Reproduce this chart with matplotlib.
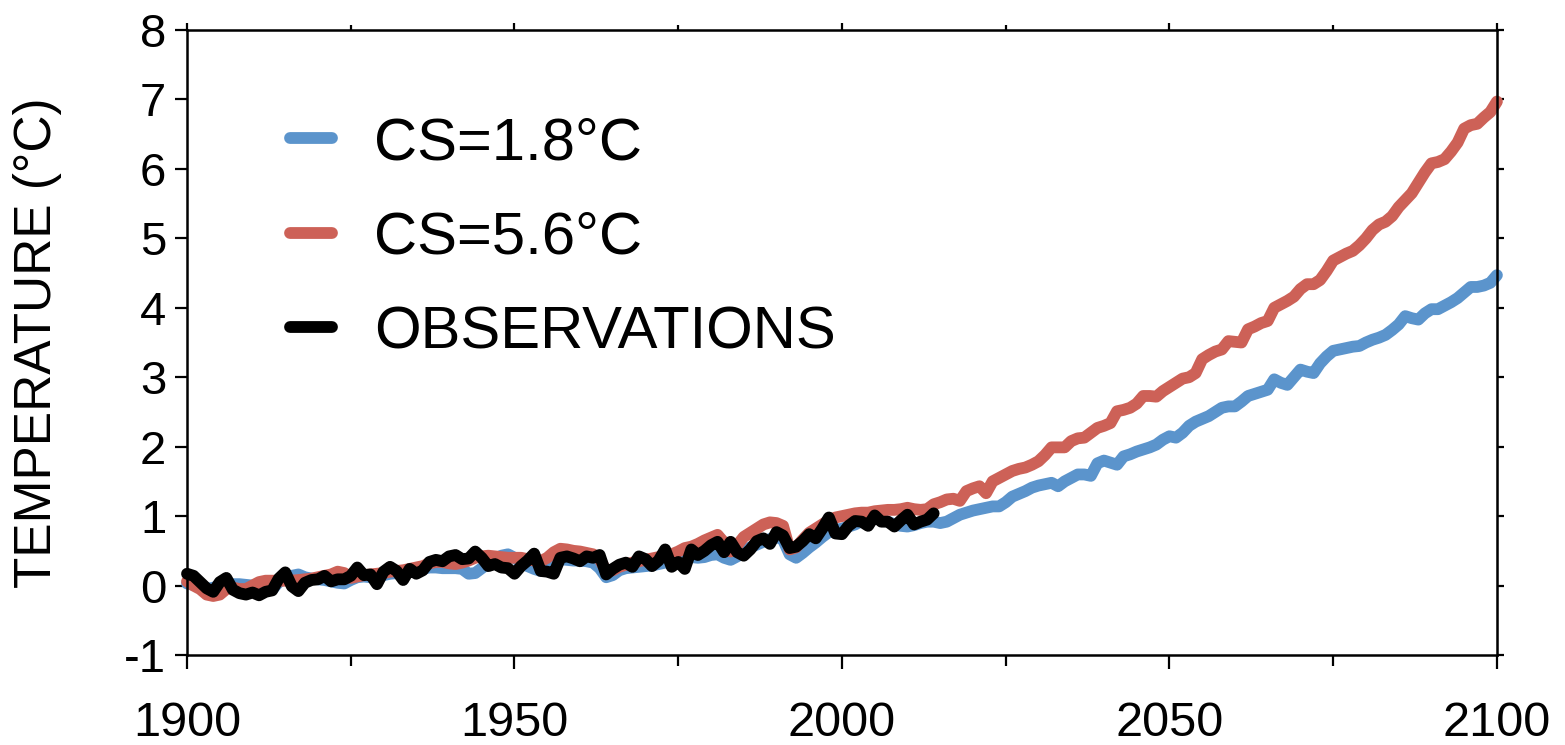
import numpy as np
import matplotlib.pyplot as plt
from matplotlib.ticker import MultipleLocator, FuncFormatter

plt.rcParams['font.family'] = ['Liberation Sans', 'DejaVu Sans']

# annual global temperature, degC
years_model = np.arange(1900, 2101)
years_obs = np.arange(1900, 2015)

cs_low = [
    0.03, 0.01, -0.02, -0.05, -0.03, -0.01, 0.01, 0.02, 0.02, 0.01,
    0.00, -0.02, -0.07, -0.06, 0.05, 0.10, 0.14, 0.16, 0.12, 0.10,
    0.09, 0.08, 0.06, 0.04, 0.03, 0.08, 0.12, 0.13, 0.12, 0.14,
    0.15, 0.17, 0.18, 0.19, 0.21, 0.22, 0.24, 0.26, 0.26, 0.25,
    0.25, 0.25, 0.24, 0.17, 0.18, 0.25, 0.32, 0.38, 0.43, 0.45,
    0.40, 0.33, 0.28, 0.24, 0.21, 0.25, 0.32, 0.38, 0.37, 0.36,
    0.36, 0.35, 0.33, 0.25, 0.12, 0.15, 0.22, 0.25, 0.26, 0.27,
    0.28, 0.29, 0.31, 0.33, 0.35, 0.37, 0.39, 0.41, 0.40, 0.41,
    0.44, 0.45, 0.40, 0.37, 0.42, 0.50, 0.55, 0.59, 0.63, 0.67,
    0.70, 0.66, 0.45, 0.40, 0.47, 0.55, 0.62, 0.70, 0.77, 0.80,
    0.82, 0.85, 0.88, 0.93, 0.98, 1.00, 0.96, 0.92, 0.88, 0.86,
    0.85, 0.87, 0.90, 0.92, 0.92, 0.90, 0.92, 0.97, 1.02, 1.05,
    1.08, 1.10, 1.12, 1.14, 1.14, 1.20, 1.28, 1.32, 1.36, 1.41,
    1.44, 1.46, 1.48, 1.43, 1.50, 1.55, 1.60, 1.60, 1.58, 1.76,
    1.80, 1.77, 1.74, 1.86, 1.89, 1.93, 1.96, 1.99, 2.03, 2.10,
    2.15, 2.13, 2.20, 2.30, 2.36, 2.40, 2.44, 2.50, 2.56, 2.58,
    2.58, 2.65, 2.73, 2.76, 2.79, 2.82, 2.97, 2.92, 2.89, 3.00,
    3.11, 3.08, 3.06, 3.20, 3.30, 3.38, 3.40, 3.42, 3.44, 3.45,
    3.50, 3.54, 3.57, 3.61, 3.68, 3.76, 3.88, 3.85, 3.83, 3.92,
    3.98, 3.98, 4.03, 4.08, 4.14, 4.22, 4.30, 4.30, 4.32, 4.36,
    4.47,
]

cs_high = [
    0.06, 0.00, -0.05, -0.13, -0.15, -0.13, -0.05, -0.03, -0.05, -0.05,
    0.00, 0.05, 0.07, 0.07, 0.07, 0.07, 0.07, 0.08, 0.09, 0.10,
    0.12, 0.14, 0.16, 0.20, 0.18, 0.11, 0.13, 0.15, 0.16, 0.17,
    0.18, 0.20, 0.21, 0.22, 0.24, 0.26, 0.28, 0.32, 0.34, 0.34,
    0.32, 0.31, 0.33, 0.36, 0.40, 0.42, 0.43, 0.42, 0.41, 0.40,
    0.40, 0.40, 0.38, 0.36, 0.35, 0.40, 0.48, 0.53, 0.52, 0.50,
    0.49, 0.47, 0.45, 0.38, 0.21, 0.22, 0.27, 0.30, 0.33, 0.35,
    0.37, 0.39, 0.41, 0.43, 0.45, 0.49, 0.54, 0.56, 0.60, 0.65,
    0.69, 0.73, 0.62, 0.49, 0.58, 0.70, 0.76, 0.82, 0.88, 0.91,
    0.90, 0.86, 0.52, 0.55, 0.66, 0.76, 0.82, 0.88, 0.94, 0.98,
    1.00, 1.02, 1.04, 1.05, 1.05, 1.07, 1.08, 1.09, 1.09, 1.10,
    1.12, 1.10, 1.09, 1.10, 1.17, 1.20, 1.24, 1.25, 1.22, 1.36,
    1.40, 1.43, 1.33, 1.50, 1.55, 1.60, 1.65, 1.68, 1.70, 1.74,
    1.79, 1.88, 1.99, 1.99, 1.99, 2.08, 2.12, 2.13, 2.20, 2.27,
    2.30, 2.34, 2.51, 2.53, 2.56, 2.62, 2.73, 2.73, 2.72, 2.80,
    2.86, 2.92, 2.98, 3.00, 3.06, 3.26, 3.32, 3.37, 3.40, 3.52,
    3.51, 3.50, 3.69, 3.73, 3.78, 3.81, 4.00, 4.05, 4.10, 4.16,
    4.27, 4.34, 4.34, 4.40, 4.53, 4.68, 4.73, 4.78, 4.82, 4.90,
    5.00, 5.12, 5.20, 5.24, 5.32, 5.45, 5.55, 5.65, 5.80, 5.95,
    6.08, 6.10, 6.14, 6.25, 6.38, 6.58, 6.63, 6.65, 6.74, 6.82,
    6.97,
]

observations = [
    0.17, 0.14, 0.05, -0.04, -0.09, 0.05, 0.11, -0.06, -0.11, -0.13,
    -0.10, -0.14, -0.09, -0.07, 0.10, 0.19, -0.01, -0.08, 0.04, 0.08,
    0.09, 0.14, 0.06, 0.09, 0.09, 0.14, 0.26, 0.15, 0.16, 0.02,
    0.20, 0.27, 0.21, 0.08, 0.24, 0.17, 0.22, 0.34, 0.37, 0.35,
    0.42, 0.44, 0.38, 0.39, 0.49, 0.40, 0.28, 0.31, 0.26, 0.25,
    0.17, 0.28, 0.36, 0.46, 0.21, 0.20, 0.17, 0.40, 0.42, 0.39,
    0.35, 0.42, 0.40, 0.44, 0.16, 0.24, 0.30, 0.33, 0.27, 0.42,
    0.38, 0.28, 0.36, 0.52, 0.27, 0.34, 0.24, 0.52, 0.44, 0.50,
    0.58, 0.63, 0.48, 0.63, 0.48, 0.43, 0.52, 0.64, 0.68, 0.60,
    0.77, 0.72, 0.54, 0.56, 0.64, 0.74, 0.68, 0.82, 0.98, 0.75,
    0.74, 0.86, 0.93, 0.92, 0.86, 1.01, 0.92, 0.92, 0.85, 0.94,
    1.02, 0.88, 0.92, 0.95, 1.04,
]

labels = ['CS=1.8°C', 'CS=5.6°C', 'OBSERVATIONS']
colors = ['#5b94cc', '#cd6157', '#000000']

fig = plt.figure(figsize=(15.65, 7.45), dpi=100)
ax = fig.add_axes([0.1195, 0.1208, 0.837, 0.8389])

series = [(years_model, cs_low), (years_model, cs_high), (years_obs, observations)]
for (x, y), lab, col in zip(series, labels, colors):
    ax.plot(x, y, color=col, lw=8.5, label=lab, solid_capstyle='round',
            solid_joinstyle='round', clip_on=False)

ax.set_xlim(1900, 2100)
ax.set_ylim(-1, 8)
ax.xaxis.set_major_locator(MultipleLocator(50))
ax.xaxis.set_minor_locator(MultipleLocator(25))
ax.yaxis.set_major_locator(MultipleLocator(1))
ax.yaxis.set_major_formatter(FuncFormatter(lambda v, pos: f'{v:g}'))

for side in ax.spines.values():
    side.set_linewidth(1.8)

ax.tick_params(axis='x', which='major', direction='out', length=10, width=1.6,
               labelsize=35, pad=23)
ax.tick_params(axis='x', which='minor', direction='out', length=8, width=1.6)
ax.tick_params(axis='y', which='major', direction='out', length=9, width=1.6,
               labelsize=34, pad=6)

# short ticks along the top and right edges
top = ax.secondary_xaxis('top')
top.xaxis.set_major_locator(MultipleLocator(50))
top.xaxis.set_minor_locator(MultipleLocator(25))
top.tick_params(which='major', direction='out', length=5, width=1.6, labeltop=False)
top.tick_params(which='minor', direction='out', length=3.5, width=1.6)
right = ax.secondary_yaxis('right')
right.yaxis.set_major_locator(MultipleLocator(1))
right.tick_params(direction='out', length=5, width=1.6, labelright=False)

ax.set_ylabel('TEMPERATURE (°C)', fontsize=37)
ax.yaxis.set_label_coords(-0.0954, 0.5)

ax.legend(loc='upper left', bbox_to_anchor=(0.079, 0.862), frameon=False,
          fontsize=43, handlelength=0.7, handletextpad=0.7,
          labelspacing=0.66, borderpad=0, borderaxespad=0)

fig.savefig('out.png', dpi=100)
